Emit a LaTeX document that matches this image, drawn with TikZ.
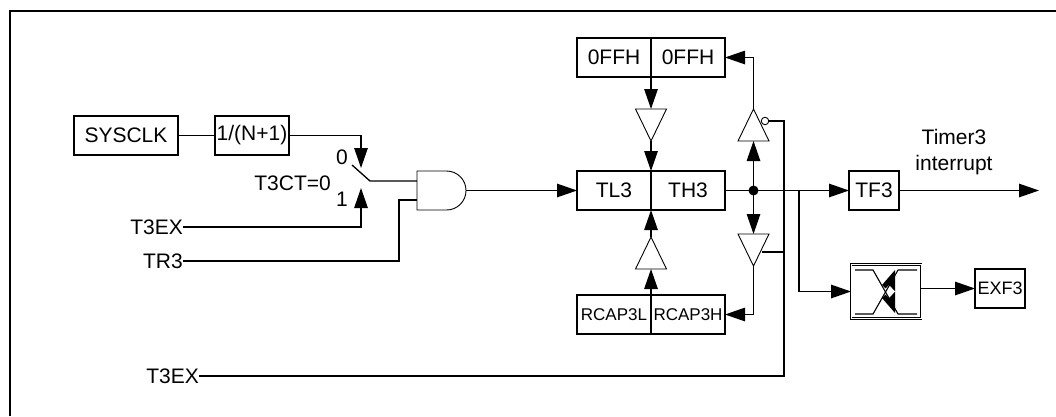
\documentclass[tikz,border=0pt]{standalone}
\usepackage{fontspec}
\setmainfont{Liberation Sans}
\usetikzlibrary{arrows.meta,shapes.geometric}
\tikzset{
  x=1pt,y=-1pt,
  wire/.style={line width=1.3pt,line join=miter},
  arr/.style={wire,-{Triangle[length=20pt,width=13.5pt]}},
  boxn/.style={draw,line width=1.3pt,inner sep=0pt,outer sep=0pt,font=\fontsize{21}{21}\selectfont},
  smalltext/.style={font=\fontsize{17}{17}\selectfont},
  lab/.style={inner sep=0pt,font=\fontsize{21}{21}\selectfont},
  bufn/.style={draw,isosceles triangle,isosceles triangle stretches,inner sep=0pt,outer sep=0pt,
     minimum width=31pt,minimum height=32pt,line width=0.9pt,line join=miter},
  bufdown/.style={bufn,shape border rotate=-90,anchor=apex},
  bufup/.style={bufn,shape border rotate=90,anchor=apex},
}
\begin{document}
\begin{tikzpicture}
\useasboundingbox (0,0) rectangle (1056,416);
\draw[line width=2pt] (10,416) -- (10,11) -- (1056,11);
% boxes
\node[boxn,minimum width=104pt,minimum height=39pt] (sys) at (126,135.5) {SYSCLK};
\node[boxn,minimum width=74pt,minimum height=39pt] (div) at (252,135.5) {1/(N+1)};
\node[boxn,minimum width=74pt,minimum height=39pt] (ffl) at (614,57.5) {0FFH};
\node[boxn,minimum width=74pt,minimum height=39pt] (ffh) at (688,57.5) {0FFH};
\node[boxn,minimum width=74pt,minimum height=39pt] (tl) at (614,190.5) {TL3};
\node[boxn,minimum width=74pt,minimum height=39pt] (th) at (688,190.5) {TH3};
\node[boxn,smalltext,minimum width=74pt,minimum height=39pt] (rl) at (614,314.5) {RCAP3L};
\node[boxn,smalltext,minimum width=74pt,minimum height=39pt] (rh) at (688,314.5) {RCAP3H};
\node[boxn,minimum width=50pt,minimum height=39pt] (tf) at (874,190.5) {TF3};
\node[boxn,font=\fontsize{18}{18}\selectfont,minimum width=50pt,minimum height=39pt] (exf) at (1000,288.5) {EXF3};
\node[draw,line width=1pt,double,double distance=0.8pt,inner sep=0pt,outer sep=0pt,minimum width=70pt,minimum height=54pt] (edge) at (886,291.5) {};
% labels
\node[lab,anchor=east] (t3l) at (331,183) {T3CT=0};
\node[lab] (l0) at (342,157) {0};
\node[lab] (l1) at (342,199) {1};
\node[lab,anchor=east] (t3ex) at (183,227) {T3EX};
\node[lab,anchor=east] (tr3) at (183,261) {TR3};
\node[lab,anchor=east] (t3exb) at (199,376) {T3EX};
\node[lab] (tim) at (954,137) {Timer3};
\node[lab] (intr) at (954,165) {interrupt};
% AND gate
\node[inner sep=0pt,outer sep=0pt,minimum width=49pt,minimum height=39pt] (andg) at (441.5,190.5) {};
\draw[line width=0.9pt] (andg.south west) -- (andg.north west) -- (446.5,171)
  .. controls (457.3,171) and (466,179.7) .. (466,190.5)
  .. controls (466,201.3) and (457.3,210) .. (446.5,210) -- cycle;
% buffers
\node[bufdown] (b1) at (651,141) {};
\node[bufup] (b2) at (651,237) {};
\node[bufup] (b3) at (753.5,109) {};
\node[bufdown] (b4) at (753.5,266) {};
\node[draw,circle,line width=0.9pt,minimum size=7.5pt,inner sep=0pt,outer sep=0pt] (bub) at (765,121) {};
% junctions
\coordinate (swtip) at (352,165);
\coordinate (swpiv) at (370,181);
\coordinate (c0) at (361,168);
\coordinate (c1) at (361,188);
\coordinate (andin) at (417,181);
\coordinate (andin2) at (417,200);
\coordinate (trv) at (399,200);
\coordinate (jn) at (753.5,190.5);
\coordinate (br) at (799,190.5);
\coordinate (tint) at (1039,190.5);
\coordinate (rt) at (784,121);
\coordinate (bside) at (762,252);
\coordinate (rside) at (784,252);
% clock path
\draw[wire] (sys) -- (div);
\draw[arr] (div.east) -| (c0);
\draw[arr] (t3ex.east) -| (c1);
\draw[wire] (swtip) -- (swpiv) -- (andin);
\draw[wire] (tr3.east) -| (trv) -- (andin2);
\draw[arr] (andg.east) -- (tl.west |- andg.east);
% register arrows
\draw[arr] (ffl.south east) -- (b1.lower side);
\draw[arr] (b1.apex) -- (tl.north east);
\draw[arr] (rl.north east) -- (b2.lower side);
\draw[arr] (b2.apex) -- (tl.south east);
\draw[wire] (th.east) -- (br);
\fill (jn) circle (5pt);
\draw[arr] (jn) -- (b3.lower side);
\draw[arr] (jn) -- (b4.lower side);
\draw[arr] (b3.apex) |- (ffh.east);
\draw[arr] (b4.apex) |- (rh.east);
% control line
\draw[wire] (bub.east) -- (rt) |- (t3exb.east);
\draw[wire] (bside) -- (rside);
% outputs
\draw[arr] (br) -- (tf.west);
\draw[arr] (br) |- (edge.west);
\draw[arr] (tf.east) -- (tint);
\draw[arr] (edge.east |- exf.west) -- (exf.west);
% edge detector symbol
\fill (895,270) -- (882,285) -- (889,291.5) -- (882,298) -- (895,313) -- cycle;
\fill[white] (889,285) -- (895,291.5) -- (889,298) -- (883,291.5) -- cycle;
\draw[line width=1.1pt] (855,270) -- (873,270) -- (898,314) -- (917,314);
\draw[line width=1.1pt] (855,314) -- (873,314) -- (898,270) -- (917,270);
\end{tikzpicture}
\end{document}
